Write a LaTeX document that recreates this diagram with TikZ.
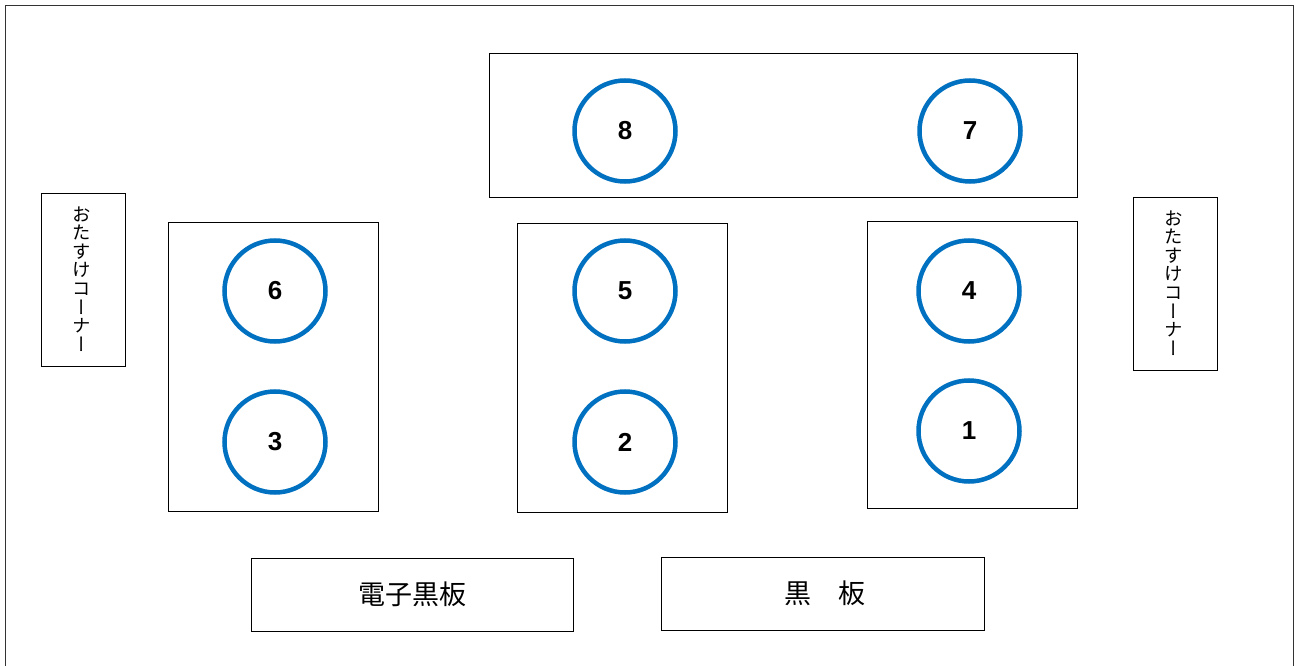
\documentclass[tikz,border=0pt]{standalone}
\usepackage{fontspec}
\setmainfont{Liberation Sans}
\newfontfamily\cjk{Noto Sans CJK JP}
\newfontfamily\cjkv[RawFeature=+vert]{Noto Sans CJK JP}
\begin{document}
\begin{tikzpicture}[x=1pt,y=-1pt,
  box/.style={draw=black,line width=1pt},
  seat/.style={circle,draw={rgb,255:red,0;green,112;blue,192},line width=4.5pt,minimum size=101pt,inner sep=0pt,font=\bfseries\fontsize{26}{26}\selectfont},
  vlabel/.style={font=\cjkv\fontsize{18.5}{18.6}\selectfont,align=center,inner sep=0pt},
  blabel/.style={font=\cjk\fontsize{27}{27}\selectfont,inner sep=0pt}]
\useasboundingbox (0,0) rectangle (1294,666);
\draw[line width=1pt,draw=black!80] (5,670) -- (5,6) -- (1293,6) -- (1293,670);
% tables
\draw[box] (489,54) rectangle (1077,198);
\draw[box] (168,222) rectangle (378,511);
\draw[box] (517,223) rectangle (727,512);
\draw[box] (867,221) rectangle (1077,508);
% side corners
\draw[box] (41,194) rectangle (125,366);
\draw[box] (1133,198) rectangle (1217,370);
\node[vlabel] (cl) at (82,279) {お\\た\\す\\け\\コ\\ー\\ナ\\ー};
\node[vlabel] (cr) at (1174,283) {お\\た\\す\\け\\コ\\ー\\ナ\\ー};
% boards
\draw[box] (251,558) rectangle (573,631);
\draw[box] (661,557) rectangle (984,630);
\node[blabel] (eb) at (412,594) {電子黒板};
\node[blabel] (bb) at (825,593) {黒　板};
% seats
\node[seat] (s8) at (625,131) {8};
\node[seat] (s7) at (970,131) {7};
\node[seat] (s6) at (275,291) {6};
\node[seat] (s5) at (625,291) {5};
\node[seat] (s4) at (969,291) {4};
\node[seat] (s3) at (275,442) {3};
\node[seat] (s2) at (625,442) {2};
\node[seat] (s1) at (969,431) {1};
\end{tikzpicture}
\end{document}
